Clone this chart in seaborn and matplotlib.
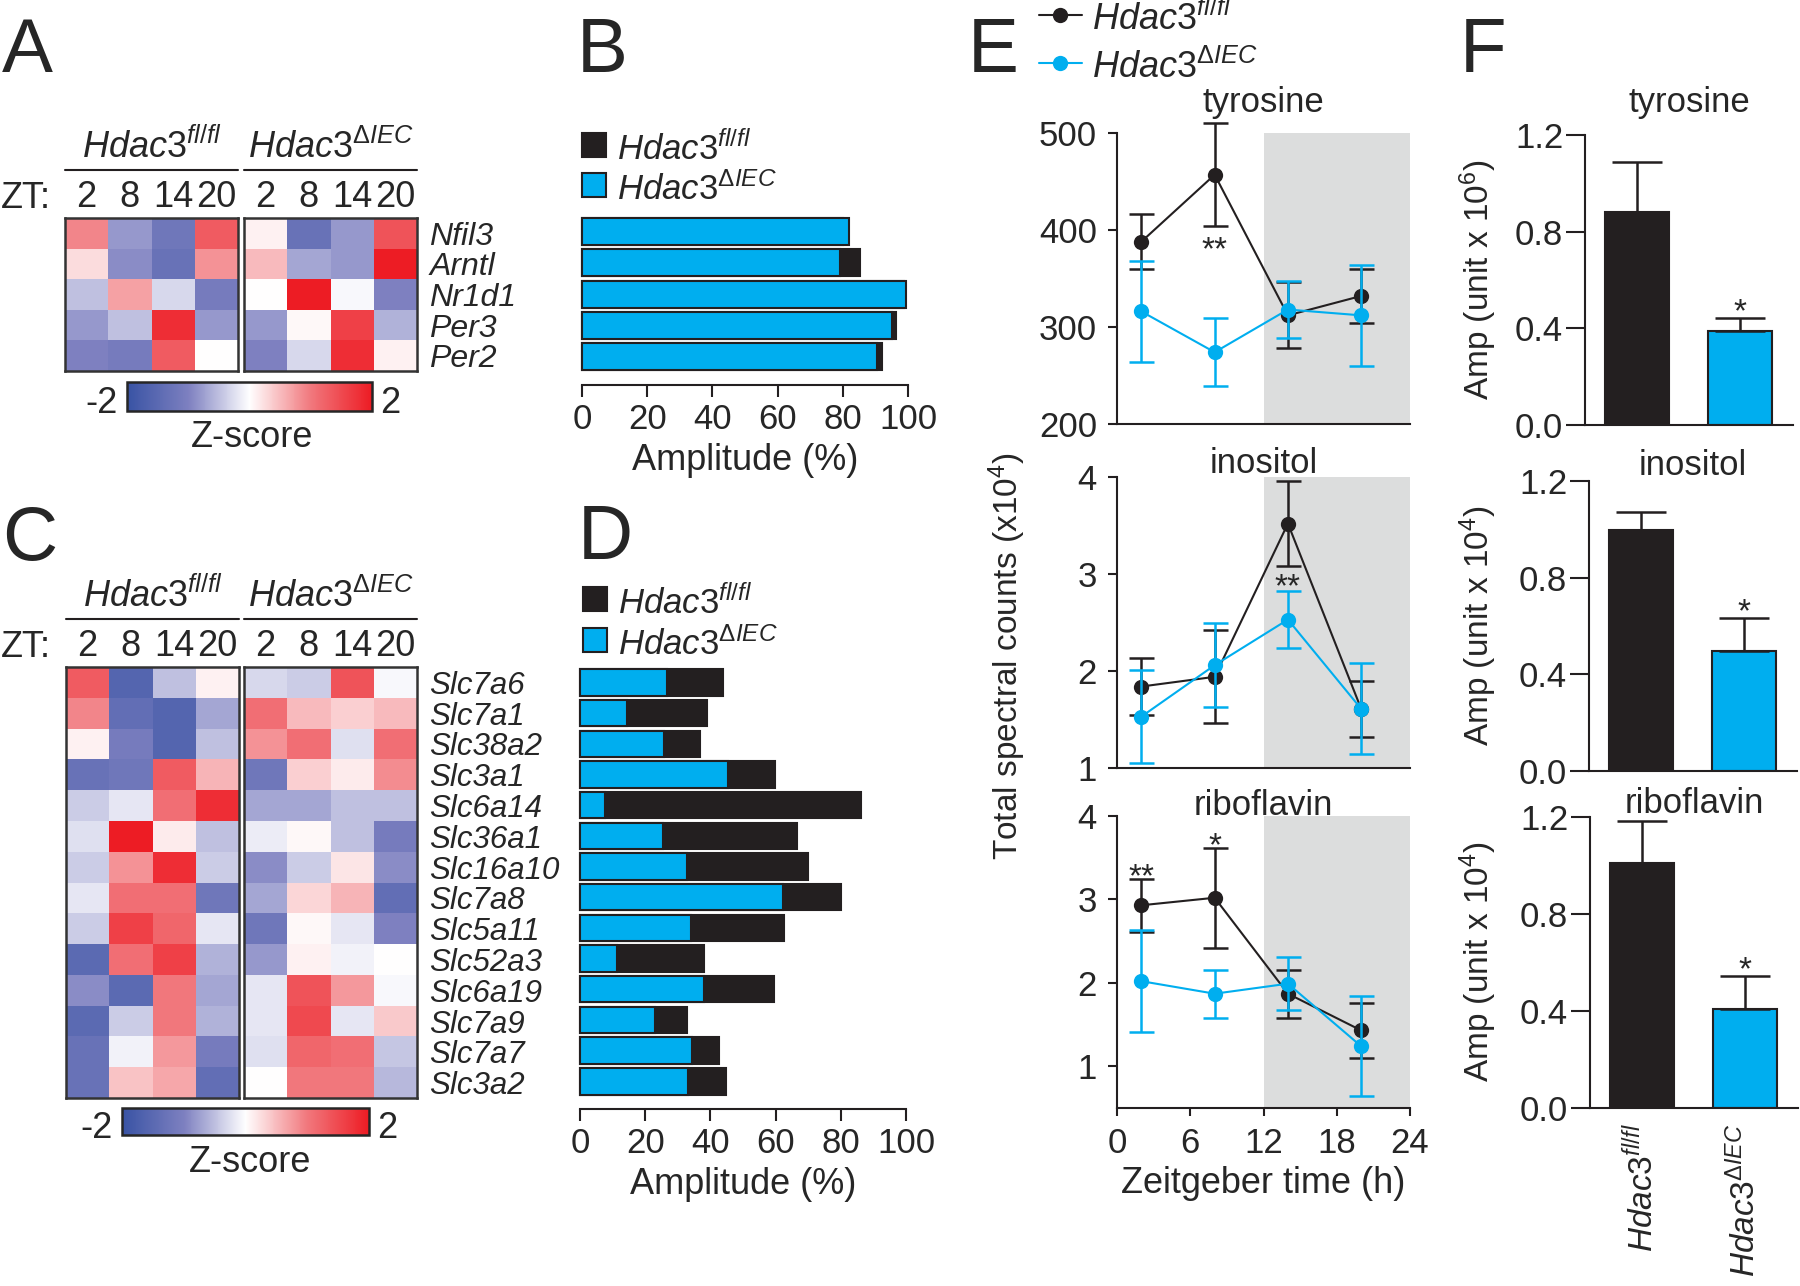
import numpy as np
import pandas as pd
import matplotlib
matplotlib.use("Agg")
import matplotlib.pyplot as plt
import seaborn as sns
from matplotlib.colors import LinearSegmentedColormap, Normalize
from matplotlib.cm import ScalarMappable
from matplotlib.lines import Line2D
from matplotlib.patches import Rectangle

# === Data ===
zt_labels = ["2", "8", "14", "20"]
genes_a = ["Nfil3", "Arntl", "Nr1d1", "Per3", "Per2"]
z_a_wt = [[0.9, -0.8, -1.2, 1.3],
          [0.25, -0.9, -1.3, 0.8],
          [-0.5, 0.7, -0.3, -1.1],
          [-0.8, -0.5, 1.8, -0.8],
          [-1.0, -1.1, 1.3, 0.0]]
z_a_ko = [[0.1, -1.3, -0.8, 1.4],
          [0.5, -0.7, -0.8, 2.0],
          [0.0, 2.0, -0.05, -1.0],
          [-0.8, 0.05, 1.6, -0.6],
          [-1.0, -0.3, 1.8, 0.1]]

amp_b_wt = [80, 85.3, 98.8, 96.4, 92]
amp_b_ko = [82, 79, 99.4, 95.1, 90.5]

genes_c = ["Slc7a6", "Slc7a1", "Slc38a2", "Slc3a1", "Slc6a14", "Slc36a1", "Slc16a10",
           "Slc7a8", "Slc5a11", "Slc52a3", "Slc6a19", "Slc7a9", "Slc7a7", "Slc3a2"]
z_c_wt = [[1.3, -1.6, -0.5, 0.1],
          [0.9, -1.4, -1.6, -0.7],
          [0.1, -1.1, -1.6, -0.5],
          [-1.3, -1.2, 1.3, 0.55],
          [-0.4, -0.2, 1.1, 1.8],
          [-0.25, 2.0, 0.15, -0.5],
          [-0.4, 0.8, 1.8, -0.4],
          [-0.2, 1.1, 1.1, -1.2],
          [-0.4, 1.6, 1.2, -0.2],
          [-1.5, 1.1, 1.6, -0.6],
          [-0.9, -1.5, 1.0, -0.7],
          [-1.5, -0.4, 1.0, -0.6],
          [-1.3, -0.1, 0.75, -1.1],
          [-1.3, 0.45, 0.65, -1.4]]
z_c_ko = [[-0.3, -0.4, 1.4, -0.05],
          [1.1, 0.5, 0.35, 0.5],
          [0.8, 1.1, -0.25, 1.1],
          [-1.2, 0.35, 0.15, 0.85],
          [-0.7, -0.7, -0.5, -0.5],
          [-0.15, 0.05, -0.5, -1.1],
          [-0.9, -0.4, 0.2, -0.9],
          [-0.7, 0.3, 0.55, -1.4],
          [-1.2, 0.05, -0.2, -1.0],
          [-0.8, 0.1, -0.1, 0.0],
          [-0.2, 1.4, 0.75, -0.05],
          [-0.2, 1.5, -0.2, 0.4],
          [-0.25, 1.2, 1.1, -0.45],
          [0.0, 1.0, 1.0, -0.55]]

amp_d_wt = [44, 38.9, 36.8, 59.9, 86.1, 66.6, 69.8, 80.1, 62.7, 38.0, 59.4, 32.9, 42.6, 44.8]
amp_d_ko = [26.8, 14.3, 25.8, 45.5, 7.7, 25.4, 32.7, 62.4, 33.9, 11.2, 38.1, 23.0, 34.3, 33.1]

zt = [2, 8, 14, 20]
tyr_wt = [388, 457, 312, 332]
tyr_wt_err = [28, 53, 34, 28]
tyr_ko = [316, 274, 318, 312]
tyr_ko_err = [52, 35, 29, 52]
ino_wt = [1.84, 1.94, 3.52, 1.61]
ino_wt_err = [0.29, 0.48, 0.44, 0.29]
ino_ko = [1.53, 2.06, 2.53, 1.61]
ino_ko_err = [0.48, 0.43, 0.29, 0.47]
rib_wt = [2.93, 3.02, 1.87, 1.43]
rib_wt_err = [0.32, 0.6, 0.29, 0.33]
rib_ko = [2.02, 1.87, 1.99, 1.24]
rib_ko_err = [0.61, 0.29, 0.32, 0.6]

f_tyr = [0.88, 0.39]
f_tyr_err = [0.21, 0.054]
f_ino = [0.996, 0.497]
f_ino_err = [0.076, 0.137]
f_rib = [1.01, 0.41]
f_rib_err = [0.175, 0.135]

# === Style ===
sns.set_style("ticks")
plt.rcParams["font.family"] = ["Liberation Sans", "DejaVu Sans"]
plt.rcParams["mathtext.fontset"] = "custom"
plt.rcParams["mathtext.rm"] = "Liberation Sans"
plt.rcParams["mathtext.it"] = "Liberation Sans:italic"
plt.rcParams["mathtext.bf"] = "Liberation Sans:bold"

BLACK = "#231f20"
CYAN = "#00aeef"
GREY = "#dcdddd"
PT = 0.72  # points per pixel at dpi 100
WT_LABEL = r"$\mathit{Hdac3}^{\mathit{fl/fl}}$"
KO_LABEL = r"$\mathit{Hdac3}^{\mathit{ΔIEC}}$"
zcmap = LinearSegmentedColormap.from_list(
    "zs", [(0.0, "#3953a4"), (0.25, "#7d80c0"), (0.5, "#ffffff"), (0.75, "#f1787d"), (1.0, "#ed1c24")])

W, H = 1800, 1286
fig = plt.figure(figsize=(W / 100, H / 100), dpi=100)


def fx(x):
    return x / W


def fy(y):
    return 1 - y / H


def box(l, t, r, b):
    return [l / W, 1 - b / H, (r - l) / W, (b - t) / H]


# === Heatmaps (A, C) ===
def heat_block(rect, values, genes, title, show_genes, gene_fs):
    ax = fig.add_axes(box(*rect))
    df = pd.DataFrame(values, index=genes, columns=zt_labels)
    sns.heatmap(df, ax=ax, cmap=zcmap, vmin=-2, vmax=2, cbar=False,
                xticklabels=True, yticklabels=True)
    ax.xaxis.tick_top()
    ax.tick_params(axis="x", length=0, pad=2, labelsize=26)
    plt.setp(ax.get_xticklabels(), rotation=0)
    if show_genes:
        ax.yaxis.tick_right()
        ax.tick_params(axis="y", length=0, pad=9, labelsize=gene_fs)
        plt.setp(ax.get_yticklabels(), rotation=0, fontstyle="italic")
    else:
        ax.set_yticks([])
    ax.set_xlabel("")
    ax.set_ylabel("")
    for s in ax.spines.values():
        s.set_visible(True)
        s.set_linewidth(1.8)
        s.set_color("#333333")
    ax.annotate(title, xy=(0.5, 1), xycoords="axes fraction", xytext=(0, 60 * PT),
                textcoords="offset points", ha="center", va="baseline", fontsize=26)
    fig.add_artist(Line2D([fx(rect[0]), fx(rect[2])], [fy(rect[1] - 48)] * 2, color=BLACK, lw=1.5))
    return ax


def zbar(rect, base_num, base_z, xc):
    cax = fig.add_axes(box(*rect))
    cb = fig.colorbar(ScalarMappable(norm=Normalize(-2, 2), cmap=zcmap), cax=cax, orientation="horizontal")
    cb.set_ticks([])
    cb.outline.set_linewidth(1.8)
    fig.text(fx(rect[0] - 9), fy(base_num), "-2", ha="right", va="baseline", fontsize=26)
    fig.text(fx(rect[2] + 8), fy(base_num), "2", ha="left", va="baseline", fontsize=26)
    fig.text(fx(xc), fy(base_z), "Z-score", ha="center", va="baseline", fontsize=26)


heat_block((65, 218, 238, 371), z_a_wt, genes_a, WT_LABEL, False, 23)
heat_block((244, 218, 417, 371), z_a_ko, genes_a, KO_LABEL, True, 23)
fig.text(fx(1), fy(208), "ZT:", ha="left", va="baseline", fontsize=26)
zbar((127, 382, 372, 411), 413, 447, 252)

heat_block((66, 667, 239, 1098), z_c_wt, genes_c, WT_LABEL, False, 22.5)
heat_block((244, 667, 417, 1098), z_c_ko, genes_c, KO_LABEL, True, 22.5)
fig.text(fx(1), fy(657), "ZT:", ha="left", va="baseline", fontsize=26)
zbar((122, 1108, 369, 1135), 1138, 1172, 250)


# === Amplitude bars (B, D) ===
def amp_bars(rect, genes, wt, ko, leg_x, leg_y):
    ax = fig.add_axes(box(*rect))
    df = pd.DataFrame({"gene": genes, "wt": wt, "ko": ko})
    for col, colr in [("wt", BLACK), ("ko", CYAN)]:
        sns.barplot(data=df, x=col, y="gene", orient="h", color=colr, saturation=1,
                    edgecolor=BLACK, linewidth=1.5, width=0.86, errorbar=None, ax=ax)
    for p in ax.patches:
        p.set_clip_on(False)
    ax.set_xlim(0, 100)
    ax.set_ylim(len(genes) - 0.1, -0.5)
    ax.set_yticks([])
    for side in ["left", "top", "right"]:
        ax.spines[side].set_visible(False)
    ax.spines["bottom"].set_linewidth(1.5)
    ax.spines["bottom"].set_color(BLACK)
    ax.set_xticks([0, 20, 40, 60, 80, 100])
    ax.tick_params(axis="x", length=12 * PT, width=1.5, labelsize=25, pad=4, color=BLACK)
    ax.set_xlabel("Amplitude (%)", fontsize=26, labelpad=5)
    ax.set_ylabel("")
    for i, (lab, colr) in enumerate([(WT_LABEL, BLACK), (KO_LABEL, CYAN)]):
        yb = leg_y[i]
        fig.add_artist(Rectangle((fx(leg_x), fy(yb)), 24 / W, 24 / H, transform=fig.transFigure,
                                 facecolor=colr, edgecolor=BLACK, lw=1.5))
        fig.text(fx(leg_x + 35), fy(yb + 3), lab, ha="left", va="baseline", fontsize=25)
    return ax


amp_bars((582, 216, 908, 385), genes_a, amp_b_wt, amp_b_ko, 582, [157, 197])
amp_bars((580, 667, 906, 1109), genes_c, amp_d_wt, amp_d_ko, 583, [611, 652])


def star(ax, x, y, s):
    # y is where the asterisk should appear centred
    ax.annotate(s, (x, y), xytext=(0, -14), textcoords="offset points",
                ha="center", va="baseline", fontsize=24, zorder=6, annotation_clip=False)


# === Time courses (E) ===
def time_course(rect, wt, wt_err, ko, ko_err, ylim, yticks, title, title_pad, stars, bottom):
    ax = fig.add_axes(box(*rect))
    ax.axvspan(12, 24, color=GREY, lw=0, zorder=0)
    ax.errorbar(zt, wt, yerr=wt_err, fmt="none", ecolor=BLACK, elinewidth=1.8,
                capsize=9, capthick=1.8, zorder=2, clip_on=False)
    sns.lineplot(x=zt, y=wt, color=BLACK, marker="o", markersize=11, markeredgewidth=0,
                 lw=1.5, ax=ax, zorder=3, clip_on=False)
    ax.errorbar(zt, ko, yerr=ko_err, fmt="none", ecolor=CYAN, elinewidth=1.8,
                capsize=9, capthick=1.8, zorder=4, clip_on=False)
    sns.lineplot(x=zt, y=ko, color=CYAN, marker="o", markersize=11, markeredgewidth=0,
                 lw=1.5, ax=ax, zorder=5, clip_on=False)
    for xs, ys, s in stars:
        star(ax, xs, ys, s)
    ax.set_xlim(0, 24)
    ax.set_ylim(*ylim)
    ax.set_yticks(yticks)
    for side in ["top", "right"]:
        ax.spines[side].set_visible(False)
    for side in ["left", "bottom"]:
        ax.spines[side].set_linewidth(1.5)
        ax.spines[side].set_color(BLACK)
    ax.tick_params(axis="y", length=9 * PT, width=1.5, labelsize=25, pad=8, color=BLACK)
    if bottom:
        ax.set_xticks([0, 6, 12, 18, 24])
        ax.tick_params(axis="x", length=8 * PT, width=1.5, labelsize=25, pad=8, color=BLACK)
        ax.set_xlabel("Zeitgeber time (h)", fontsize=26, labelpad=4)
    else:
        ax.set_xticks([])
    ax.annotate(title, xy=(0.5, 1), xycoords="axes fraction", xytext=(0, title_pad * PT),
                textcoords="offset points", ha="center", va="baseline", fontsize=25)
    return ax


time_course((1117, 133, 1410, 424), tyr_wt, tyr_wt_err, tyr_ko, tyr_ko_err, (200, 500),
            [200, 300, 400, 500], "tyrosine", 21, [(8, 390, "**")], False)
time_course((1117, 477, 1410, 768), ino_wt, ino_wt_err, ino_ko, ino_ko_err, (1, 4),
            [1, 2, 3, 4], "inositol", 4, [(14, 2.97, "**")], False)
time_course((1117, 816, 1410, 1108), rib_wt, rib_wt_err, rib_ko, rib_ko_err, (0.5, 4),
            [1, 2, 3, 4], "riboflavin", 1, [(2, 3.39, "**"), (8, 3.76, "*")], True)

fig.text(fx(1007), fy(656), "Total spectral counts (x10$^4$)", rotation=90, ha="center", va="center",
         fontsize=24, family=["Liberation Sans Narrow", "Liberation Sans"])

for yl, colr, lab in [(15, BLACK, WT_LABEL), (63, CYAN, KO_LABEL)]:
    fig.add_artist(Line2D([fx(1039), fx(1082)], [fy(yl)] * 2, color=colr, lw=1.5))
    fig.add_artist(Line2D([fx(1060)], [fy(yl)], color=colr, marker="o", markersize=11, markeredgewidth=0))
    fig.text(fx(1092), fy(yl + 15), lab, ha="left", va="baseline", fontsize=26)


# === Amplitude comparison (F) ===
def amp_compare(left, top, bottom, vals, errs, title, title_pad, label_x):
    ax = fig.add_axes(box(left, top, left + 208, bottom))
    geno = ["wt", "ko"]
    sns.barplot(x=geno, y=vals, hue=geno, palette=[BLACK, CYAN], legend=False, saturation=1,
                edgecolor=BLACK, linewidth=1.5, width=0.62, errorbar=None, ax=ax)
    ax.errorbar([0, 1], vals, yerr=[[0, 0], errs], fmt="none", ecolor=BLACK, elinewidth=1.8,
                capsize=18, capthick=1.8, zorder=1, clip_on=False)
    star(ax, 1, vals[1] + errs[1] + 0.065, "*")
    ax.set_xlim(-0.505, 1.515)
    ax.set_ylim(0, 1.2)
    ax.set_yticks([0, 0.4, 0.8, 1.2])
    ax.set_yticklabels(["0.0", "0.4", "0.8", "1.2"])
    for side in ["top", "right"]:
        ax.spines[side].set_visible(False)
    for side in ["left", "bottom"]:
        ax.spines[side].set_linewidth(1.5)
        ax.spines[side].set_color(BLACK)
    ax.tick_params(axis="y", length=19 * PT, width=1.5, labelsize=25, pad=2, color=BLACK)
    if label_x:
        ax.set_xticks([0, 1])
        ax.set_xticklabels([WT_LABEL, KO_LABEL], rotation=90, fontsize=24)
        ax.tick_params(axis="x", length=0, pad=11)
    else:
        ax.set_xticks([])
    ax.annotate(title, xy=(0.5, 1), xycoords="axes fraction", xytext=(0, title_pad * PT),
                textcoords="offset points", ha="center", va="baseline", fontsize=25)
    return ax


ylab_tpl = "Amp (unit x 10$^{%d}$)"
amp_compare(1585, 135, 425, f_tyr, f_tyr_err, "tyrosine", 23, False)
fig.text(fx(1478), fy(280), ylab_tpl % 6, rotation=90, ha="center", va="center", fontsize=24)
amp_compare(1589, 481, 771, f_ino, f_ino_err, "inositol", 6, False)
fig.text(fx(1478), fy(626), ylab_tpl % 4, rotation=90, ha="center", va="center", fontsize=24)
amp_compare(1590, 817, 1108, f_rib, f_rib_err, "riboflavin", 4, True)
fig.text(fx(1478), fy(962), ylab_tpl % 4, rotation=90, ha="center", va="center", fontsize=24)

# === Panel letters ===
for letter, x, yb in [("A", 2, 72), ("B", 577, 72), ("C", 2, 560), ("D", 578, 559),
                      ("E", 968, 72), ("F", 1460, 72)]:
    fig.text(fx(x), fy(yb), letter, ha="left", va="baseline", fontsize=55)

fig.savefig("out.png", dpi=100)
